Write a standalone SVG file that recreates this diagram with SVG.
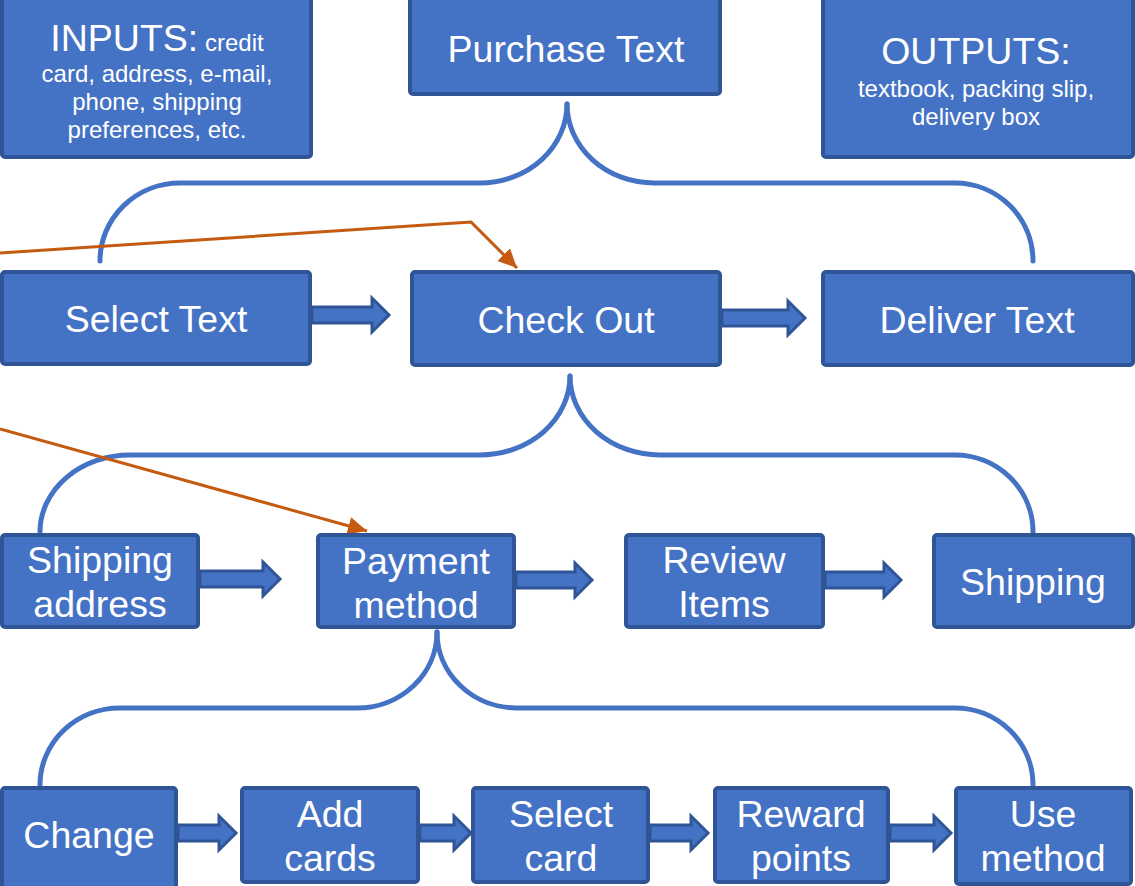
<svg xmlns="http://www.w3.org/2000/svg" width="1135" height="886" viewBox="0 0 1135 886">
<style>
.box{fill:#4472C4;stroke:#2F5597;stroke-width:4}
.t{fill:#fff;font-family:"Liberation Sans",Arial,sans-serif;font-size:37.5px;text-anchor:middle}
.s{font-size:24px}
.brace{fill:none;stroke:#4472C4;stroke-width:5;stroke-linecap:round}
.ba{fill:#4472C4;stroke:#2F5597;stroke-width:3;stroke-linejoin:miter}
.or{fill:none;stroke:#C55A11;stroke-width:3}
</style>
<defs>
<marker id="oh" markerUnits="userSpaceOnUse" markerWidth="20" markerHeight="18" refX="19" refY="9" orient="auto">
<path d="M0,0 L19,9 L0,18 Z" fill="#C55A11"/>
</marker>
</defs>
<rect width="1135" height="886" fill="#fff"/>
<g id="connectors">
<path class="brace" d="M567,104 A87,79 0 0 1 480,183 H180 A80,78 0 0 0 100,261"/>
<path class="brace" d="M567,104 A87,79 0 0 0 654,183 H955 A78,78 0 0 1 1033,261"/>
<path class="brace" d="M570,376 A90,79 0 0 1 480,455 H130 A90,77 0 0 0 40,532"/>
<path class="brace" d="M570,376 A90,79 0 0 0 660,455 H955 A78,77 0 0 1 1033,532"/>
<path class="brace" d="M437,632 A80,76 0 0 1 357,708 H120 A80,77 0 0 0 40,785"/>
<path class="brace" d="M437,632 A80,76 0 0 0 517,708 H955 A78,77 0 0 1 1033,785"/>
<path class="ba" d="M312,307 H372 V298 L389,315 L372,332 V323 H312 Z"/>
<path class="ba" d="M722,310 H788 V301 L805,318 L788,335 V326 H722 Z"/>
<path class="ba" d="M200,571 H263 V562 L280,579 L263,596 V587 H200 Z"/>
<path class="ba" d="M516,572 H575 V563 L592,580 L575,597 V588 H516 Z"/>
<path class="ba" d="M825,572 H884 V563 L901,580 L884,597 V588 H825 Z"/>
<path class="ba" d="M178,825 H219 V816 L236,833 L219,850 V841 H178 Z"/>
<path class="ba" d="M420,825 H454 V816 L471,833 L454,850 V841 H420 Z"/>
<path class="ba" d="M650,825 H691 V816 L708,833 L691,850 V841 H650 Z"/>
<path class="ba" d="M890,825 H934 V816 L951,833 L934,850 V841 H890 Z"/>
<polyline class="or" points="0,253 471,222 517,268" marker-end="url(#oh)"/>
<line class="or" x1="0" y1="429" x2="367" y2="531" marker-end="url(#oh)"/>
</g>
<g id="inputs"><rect class="box" x="2" y="-4" width="309" height="161" rx="3"/>
<text class="t" x="157" y="51">INPUTS:<tspan class="s"> credit</tspan></text>
<text class="t s" x="157" y="82">card, address, e-mail,</text>
<text class="t s" x="157" y="110">phone, shipping</text>
<text class="t s" x="157" y="138">preferences, etc.</text></g>
<g id="purchase-text"><rect class="box" x="410" y="-4" width="310" height="98" rx="3"/>
<text class="t" x="566" y="62">Purchase Text</text></g>
<g id="outputs"><rect class="box" x="823" y="-4" width="310" height="161" rx="3"/>
<text class="t" x="976" y="64">OUTPUTS:</text>
<text class="t s" x="976" y="97">textbook, packing slip,</text>
<text class="t s" x="976" y="125">delivery box</text></g>
<g id="select-text"><rect class="box" x="2" y="272" width="308" height="92" rx="3"/>
<text class="t" x="156" y="332">Select Text</text></g>
<g id="check-out"><rect class="box" x="412" y="272" width="308" height="93" rx="3"/>
<text class="t" x="566" y="333">Check Out</text></g>
<g id="deliver-text"><rect class="box" x="823" y="272" width="310" height="93" rx="3"/>
<text class="t" x="977" y="333">Deliver Text</text></g>
<g id="shipping-address"><rect class="box" x="2" y="535" width="196" height="92" rx="3"/>
<text class="t" x="100" y="573">Shipping</text><text class="t" x="100" y="617">address</text></g>
<g id="payment-method"><rect class="box" x="318" y="535" width="196" height="92" rx="3"/>
<text class="t" x="416" y="574">Payment</text><text class="t" x="416" y="618">method</text></g>
<g id="review-items"><rect class="box" x="626" y="535" width="197" height="92" rx="3"/>
<text class="t" x="724" y="573">Review</text><text class="t" x="724" y="617">Items</text></g>
<g id="shipping"><rect class="box" x="934" y="535" width="199" height="92" rx="3"/>
<text class="t" x="1033" y="595">Shipping</text></g>
<g id="change"><rect class="box" x="2" y="788" width="174" height="100" rx="3"/>
<text class="t" x="89" y="848">Change</text></g>
<g id="add-cards"><rect class="box" x="242" y="788" width="176" height="94" rx="3"/>
<text class="t" x="330" y="827">Add</text><text class="t" x="330" y="871">cards</text></g>
<g id="select-card"><rect class="box" x="473" y="788" width="175" height="94" rx="3"/>
<text class="t" x="561" y="827">Select</text><text class="t" x="561" y="871">card</text></g>
<g id="reward-points"><rect class="box" x="715" y="788" width="173" height="94" rx="3"/>
<text class="t" x="801" y="827">Reward</text><text class="t" x="801" y="871">points</text></g>
<g id="use-method"><rect class="box" x="956" y="788" width="175" height="96" rx="3"/>
<text class="t" x="1043" y="827">Use</text><text class="t" x="1043" y="871">method</text></g>
</svg>
